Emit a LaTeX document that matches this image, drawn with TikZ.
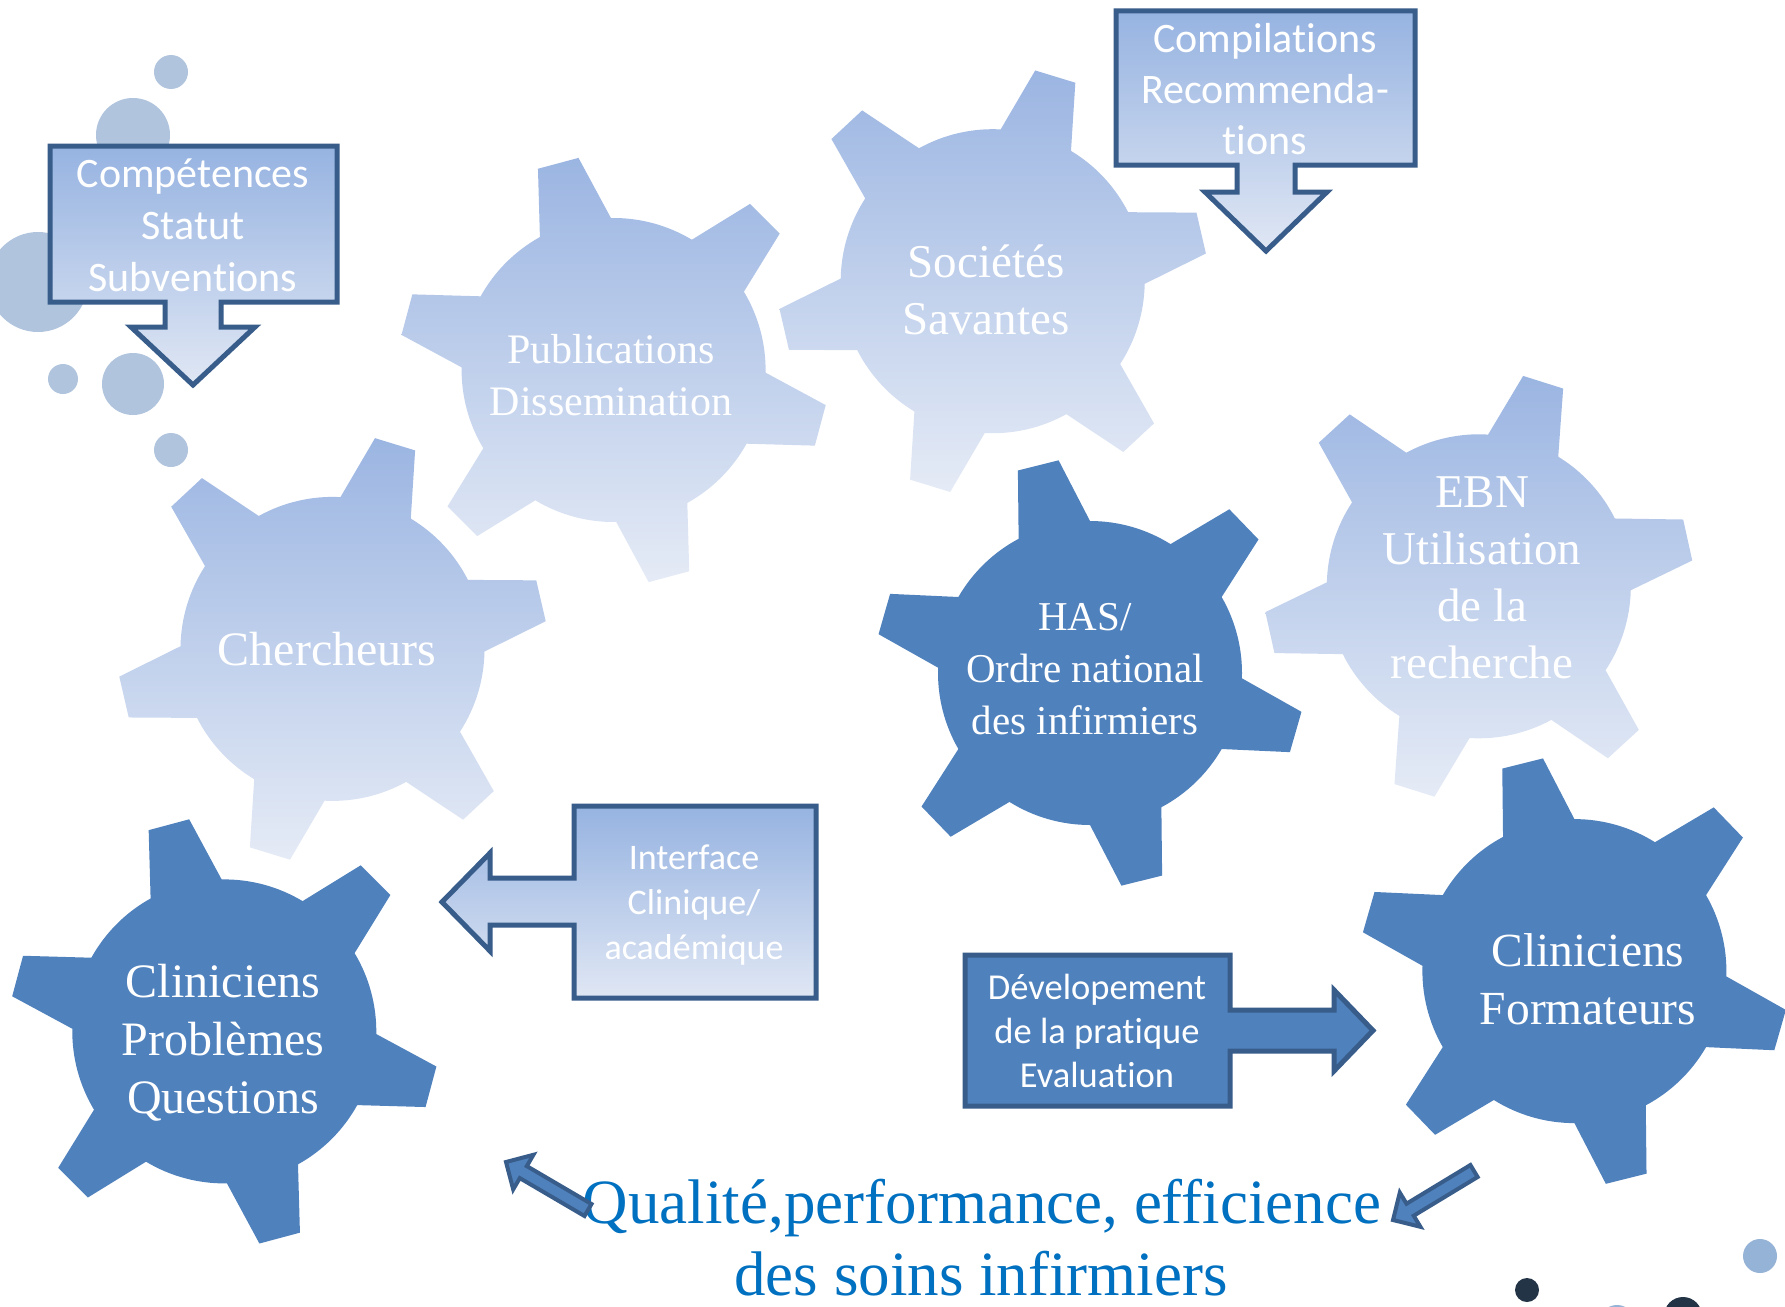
\documentclass[tikz,border=0pt]{standalone}
\usepackage{fontspec}
\setmainfont{Liberation Serif}
\newfontfamily\calibri[Ligatures=NoCommon]{Carlito}
\definecolor{gdark}{RGB}{79,129,189}
\definecolor{gborder}{RGB}{56,93,138}
\definecolor{gtop}{RGB}{155,181,226}
\definecolor{gbot}{RGB}{229,235,246}
\definecolor{ctop}{RGB}{150,179,225}
\definecolor{cbot}{RGB}{224,231,244}
\definecolor{bubble}{RGB}{176,196,222}
\definecolor{qblue}{RGB}{0,112,192}
\definecolor{dotdark}{RGB}{36,52,71}
\definecolor{dotlight}{RGB}{149,179,215}
\newcommand\gearfig[4]{% style, x, y, rotation
  \path[#1, shift={(#2,#3)}] (#4-14:152)
    \foreach \k in {0,...,5}{
      -- ({#4+60*\k-5.6}:215) -- ({#4+60*\k+5.6}:215) -- ({#4+60*\k+14}:152)
      arc[start angle={#4+60*\k+14}, end angle={#4+60*\k+46}, radius=152]
    } -- cycle;
}
\tikzset{
  lightgear/.style={top color=gtop, bottom color=gbot},
  darkgear/.style={fill=gdark},
  callout/.style={draw=gborder, line width=5, line join=miter, top color=ctop, bottom color=cbot},
  darkcallout/.style={draw=gborder, line width=5, line join=miter, fill=gdark},
  thinarrow/.style={draw=gborder, line width=4, line join=miter, fill=gdark},
  geartext/.style={text=white, align=center, inner sep=0pt},
  boxtext/.style={text=white, align=center, inner sep=0pt},
}
\begin{document}
\begin{tikzpicture}[x=1pt, y=-1pt]
\useasboundingbox (0,0) rectangle (1785,1306);
\fill[white] (0,0) rectangle (1785,1306);
% bubbles
\fill[bubble] (171,72) circle[radius=17];
\fill[bubble] (133,135) circle[radius=37];
\fill[bubble] (38,282) circle[radius=50];
\fill[bubble] (63,379) circle[radius=15];
\fill[bubble] (133,384) circle[radius=31];
\fill[bubble] (171,450) circle[radius=17];
% bottom-right dots
\fill[dotdark] (1527,1290) circle[radius=12];
\fill[dotlight] (1760,1256) circle[radius=17];
\fill[dotdark] (1683,1316) circle[radius=19];
\fill[dotlight] (1617,1323) circle[radius=18];
% gears
\gearfig{lightgear}{613.6}{370}{15}
\gearfig{lightgear}{992.7}{281.2}{47}
\gearfig{lightgear}{332.5}{648.9}{47}
\gearfig{lightgear}{1478.8}{586.3}{47.5}
\gearfig{darkgear}{1090}{673}{16}
\gearfig{darkgear}{224.3}{1031.4}{15}
\gearfig{darkgear}{1574.4}{971.1}{16}
% callouts
\path[callout] (50,146) -- (337,146) -- (337,302) -- (221,302) -- (221,327) -- (255,327) -- (193,385) -- (131,327) -- (165,327) -- (165,302) -- (50,302) -- cycle;
\path[callout] (1116,11) -- (1415,11) -- (1415,165) -- (1295,165) -- (1295,192) -- (1327,192) -- (1266,251) -- (1205,192) -- (1237,192) -- (1237,165) -- (1116,165) -- cycle;
\path[callout] (816,806) -- (816,998) -- (574,998) -- (574,925) -- (490,925) -- (490,951) -- (442,902) -- (490,853) -- (490,878) -- (574,878) -- (574,806) -- cycle;
\path[darkcallout] (965,955) -- (1230,955) -- (1230,1010) -- (1334,1010) -- (1334,990) -- (1373,1030.5) -- (1334,1071) -- (1334,1051) -- (1230,1051) -- (1230,1106) -- (965,1106) -- cycle;
% gear texts
\node[geartext, font=\fontsize{42}{52}\selectfont] (pub) at (611,375) {Publications\\Dissemination};
\node[geartext, font=\fontsize{47}{57}\selectfont] (soc) at (986,290) {Sociétés\\Savantes};
\node[geartext, font=\fontsize{48}{58}\selectfont] (cher) at (327,649) {Chercheurs};
\node[geartext, font=\fontsize{41}{52}\selectfont] (has) at (1085,669) {HAS/\\Ordre national\\des infirmiers};
\node[geartext, font=\fontsize{47}{57}\selectfont] (ebn) at (1482,578) {EBN\\Utilisation\\de la\\recherche};
\node[geartext, font=\fontsize{48}{58}\selectfont] (clip) at (223,1043) {Cliniciens\\Problèmes\\Questions};
\node[geartext, font=\fontsize{47.5}{58}\selectfont] (clif) at (1588,979) {Cliniciens\\Formateurs};
% callout texts
\node[boxtext, font=\calibri\fontsize{42}{52}\selectfont] (comp) at (193,225) {Compétences\\Statut\\Subventions};
\node[boxtext, font=\calibri\fontsize{42}{51}\selectfont] (compil) at (1265,89) {Compilations\\Recommenda-\\tions};
\node[boxtext, font=\calibri\fontsize{36}{45}\selectfont] (inter) at (694,905) {Interface\\Clinique/\\académique};
\node[boxtext, font=\calibri\fontsize{36.5}{44}\selectfont] (dev) at (1097,1031) {Dévelopement\\de la pratique\\Evaluation};
% bottom text
\node[text=qblue, inner sep=0pt, anchor=base, font=\fontsize{63}{74}\selectfont] (q1) at (982,1223) {Qualité,performance, efficience};
\node[text=qblue, inner sep=0pt, anchor=base, font=\fontsize{63}{74}\selectfont] (q2) at (981,1295) {des soins infirmiers};
% small arrows
\path[thinarrow] (591.5,1204) -- (526.8,1166.1) -- (533.4,1154.8) -- (506,1162) -- (513.2,1189.4) -- (519.8,1178.1) -- (584.5,1216) -- cycle;
\path[thinarrow] (1470.4,1165) -- (1406.5,1203.7) -- (1399.8,1192.6) -- (1393,1220) -- (1420.4,1226.8) -- (1413.7,1215.7) -- (1477.6,1177) -- cycle;
\end{tikzpicture}
\end{document}
